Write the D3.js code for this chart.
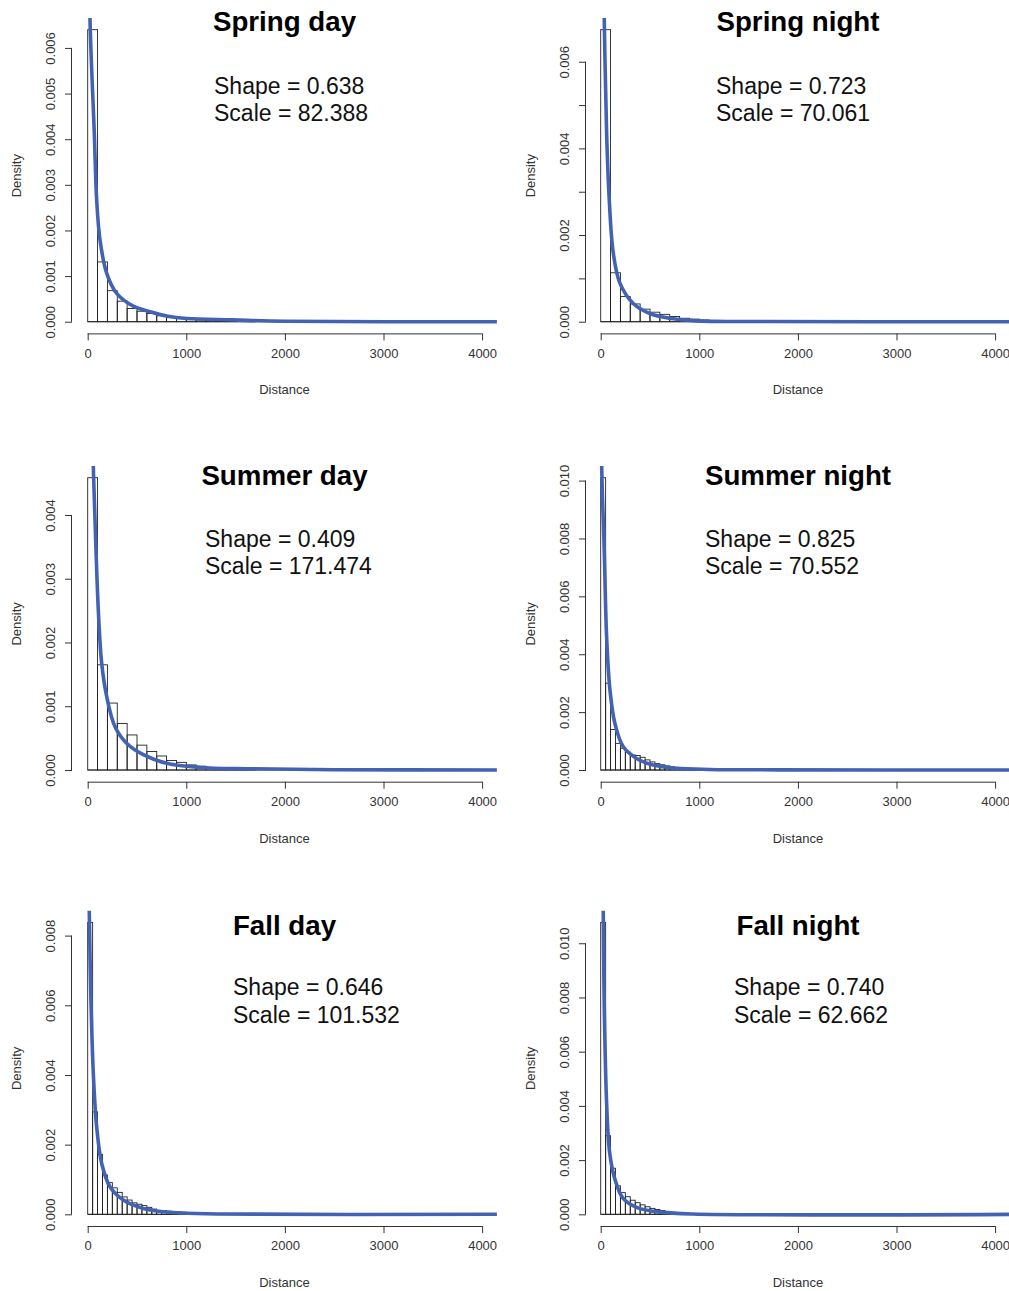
<!DOCTYPE html>
<html>
<head>
<meta charset="utf-8">
<script src="https://cdn.jsdelivr.net/npm/d3@7"></script>
<style>
  body { margin: 0; background: #fff; }
  svg { display: block; font-family: "Liberation Sans", Arial, sans-serif; }
</style>
</head>
<body>
<svg id="chart" width="1009" height="1291"></svg>
<script>
// histogram densities (bin width per panel below)
var springDayDensity = [0.0064, 0.00131, 0.00068, 0.00045, 0.00029, 0.00023, 0.00018, 0.00013, 0.00009, 0.00007, 0.00005, 0.00004, 0.00003, 0.00002, 0.00002, 0.00001, 0.00001];
var springNightDensity = [0.00674, 0.00113, 0.00058, 0.00041, 0.00029, 0.00022, 0.00017, 0.00012, 0.00008, 0.00006, 0.00004, 0.00003, 0.00002, 0.00001, 0.00001];
var summerDayDensity = [0.004585, 0.00165, 0.00105, 0.00073, 0.00055, 0.00039, 0.00029, 0.00022, 0.00015, 0.00012, 0.00008, 0.00006, 0.00004, 0.00003, 0.00002, 0.00002, 0.00001];
var summerNightDensity = [0.0101, 0.003, 0.0014, 0.00092, 0.00075, 0.00062, 0.00052, 0.0005, 0.00044, 0.00035, 0.00028, 0.00022, 0.00018, 0.00014, 0.00011, 0.00009, 0.00007, 0.00005, 0.00004, 0.00003, 0.00003, 0.00002, 0.00002, 0.00001];
var fallDayDensity = [0.00838, 0.00294, 0.00172, 0.00113, 0.00091, 0.00076, 0.00063, 0.0005, 0.00041, 0.00033, 0.00029, 0.00025, 0.0002, 0.00015, 0.00011, 0.0001, 0.00009, 0.00008, 0.00007, 0.00006, 0.00005, 0.00004, 0.00003, 0.00003, 0.00002, 0.00002, 0.00002, 0.00001, 0.00001];
var fallNightDensity = [0.01077, 0.0029, 0.0017, 0.00105, 0.0008, 0.00065, 0.00052, 0.00043, 0.00035, 0.00028, 0.00022, 0.00018, 0.00014, 0.00011, 0.00008, 0.00006, 0.00005, 0.00004, 0.00003, 0.00002, 0.00002, 0.00001];

// fitted curves, points: [distance, density]
var springDayCurve = [[12, 0.0095], [23, 0.00665], [67, 0.00413], [91, 0.00267], [125, 0.00179], [193, 0.00106], [294, 0.00062], [462, 0.00034], [632, 0.00022], [801, 0.000125], [1004, 0.00007], [1475, 0.00004], [2000, 0.00001], [4150, 0]];
var springNightCurve = [[20, 0.0095], [36, 0.007], [60, 0.00435], [87, 0.0028], [128, 0.00158], [195, 0.00089], [330, 0.00042], [498, 0.00019], [700, 0.00008], [970, 0.00002], [1500, 0.000005], [4150, 0]];
var summerDayCurve = [[40, 0.0062], [57, 0.00476], [84, 0.00345], [111, 0.0024], [142, 0.00167], [193, 0.00115], [277, 0.00068], [395, 0.00042], [564, 0.00024], [801, 0.000105], [1139, 0.00004], [1646, 0.00002], [2500, 0.000005], [4150, 0]];
var summerNightCurve = [[3, 0.0135], [10, 0.0105], [36, 0.0076], [60, 0.0046], [94, 0.00276], [144, 0.00161], [229, 0.0008], [364, 0.0004], [532, 0.00017], [768, 0.00006], [1104, 0.00002], [1800, 0.000005], [4150, 0]];
var fallDayCurve = [[5, 0.0105], [16, 0.00867], [33, 0.00614], [57, 0.00404], [91, 0.00251], [142, 0.00146], [226, 0.00079], [361, 0.00041], [564, 0.00017], [868, 0.00005], [1308, 0.00001], [4150, 0]];
var fallNightCurve = [[15, 0.0135], [26, 0.0111], [36, 0.0077], [60, 0.0041], [90, 0.0023], [140, 0.00135], [225, 0.0006], [370, 0.00025], [605, 0.00008], [935, 0.00001], [4150, 0]];

var panelTitles = ["Spring day", "Spring night", "Summer day", "Summer night", "Fall day", "Fall night"];
var shapeValues = ["0.638", "0.723", "0.409", "0.825", "0.646", "0.740"];
var scaleValues = ["82.388", "70.061", "171.474", "70.552", "101.532", "62.662"];
var binWidths = [100, 100, 100, 50, 50, 50];
var xTicks = [0, 1000, 2000, 3000, 4000];
var yTicks = [
  [0, 0.001, 0.002, 0.003, 0.004, 0.005, 0.006],
  [0, 0.001, 0.002, 0.003, 0.004, 0.005, 0.006],
  [0, 0.001, 0.002, 0.003, 0.004],
  [0, 0.002, 0.004, 0.006, 0.008, 0.010],
  [0, 0.002, 0.004, 0.006, 0.008],
  [0, 0.002, 0.004, 0.006, 0.008, 0.010]
];
var yLabelEvery = [1, 2, 1, 1, 1, 1];

var densities = [springDayDensity, springNightDensity, summerDayDensity, summerNightDensity, fallDayDensity, fallNightDensity];
var curves = [springDayCurve, springNightCurve, summerDayCurve, summerNightCurve, fallDayCurve, fallNightCurve];

// layout (pixels)
var cols = [{left: 72, right: 497, x0: 87.7}, {left: 586, right: 1010, x0: 600.7}];
var rows = [{top: 18, bottom: 333.4}, {top: 466, bottom: 781.7}, {top: 910.7, bottom: 1226}];
var textX = [214, 716, 205, 705, 233, 734];
var titleY = [31, 31, 485, 485, 935, 935];
var shapeY = [93.5, 93.5, 546.5, 546.5, 995, 995];
var lineGap = 27.5;
var pxPer1000 = 98.6;
var curveColor = "#4262b4";

var svg = d3.select("#chart");

panelTitles.forEach(function(title, i) {
  var col = cols[i % 2], row = rows[Math.floor(i / 2)];
  var dens = densities[i], bw = binWidths[i];
  var ymax = d3.max(dens);

  var x = d3.scaleLinear().domain([0, 4000]).range([col.x0, col.x0 + pxPer1000 * 4]);
  var y = d3.scaleLinear().domain([-0.04 * ymax, 1.04 * ymax]).range([row.bottom, row.top]);

  var g = svg.append("g");

  svg.append("clipPath").attr("id", "clip" + i)
    .append("rect")
    .attr("x", col.left).attr("y", row.top)
    .attr("width", col.right - col.left).attr("height", row.bottom - row.top);

  // baseline of empty bins
  g.append("line")
    .attr("x1", x(0)).attr("x2", x(4000))
    .attr("y1", y(0)).attr("y2", y(0))
    .attr("stroke", "#222").attr("stroke-width", 0.9);

  g.append("g").selectAll("rect")
    .data(dens)
    .enter()
    .append("rect")
    .attr("x", function(d, j) { return x(j * bw); })
    .attr("width", function(d, j) { return x((j + 1) * bw) - x(j * bw); })
    .attr("y", function(d) { return y(d); })
    .attr("height", function(d) { return y(0) - y(d); })
    .attr("fill", "none")
    .attr("stroke", "#222")
    .attr("stroke-width", 0.9);

  var line = d3.line()
    .x(function(d) { return x(d[0]); })
    .y(function(d) { return y(d[1]); })
    .curve(d3.curveCatmullRom.alpha(0.5));

  g.append("path")
    .datum(curves[i])
    .attr("clip-path", "url(#clip" + i + ")")
    .attr("d", line)
    .attr("fill", "none")
    .attr("stroke", curveColor)
    .attr("stroke-width", 3.6)
    .attr("stroke-linejoin", "round");

  // x axis
  var xAxis = d3.axisBottom(x).tickValues(xTicks).tickSize(7).tickPadding(8)
    .tickFormat(d3.format("d"));
  var gx = g.append("g")
    .attr("transform", "translate(0," + row.bottom + ")")
    .call(xAxis);
  gx.select(".domain").attr("stroke", "#333").attr("d", "M" + x(0) + ",0.5H" + x(4000));
  gx.selectAll(".tick line").attr("stroke", "#333");
  gx.selectAll("text").attr("fill", "#333").style("font-size", "13px")
    .style("font-family", "Liberation Sans, Arial, sans-serif");

  // y axis
  var ticks = yTicks[i];
  var yAxis = d3.axisLeft(y).tickValues(ticks).tickSize(7)
    .tickFormat(function(d, j) { return j % yLabelEvery[i] === 0 ? d3.format(".3f")(d) : ""; });
  var gy = g.append("g")
    .attr("transform", "translate(" + col.left + ",0)")
    .call(yAxis);
  gy.select(".domain").attr("stroke", "#333")
    .attr("d", "M-0.5," + y(0) + "V" + y(ticks[ticks.length - 1]));
  gy.selectAll(".tick line").attr("stroke", "#333");
  gy.selectAll("text")
    .attr("fill", "#333")
    .style("font-size", "13px")
    .style("font-family", "Liberation Sans, Arial, sans-serif")
    .attr("x", null).attr("dy", null)
    .attr("text-anchor", "middle")
    .attr("transform", "translate(-17,0) rotate(-90)");

  // axis titles
  g.append("text")
    .attr("x", (col.left + col.right) / 2)
    .attr("y", row.bottom + 61)
    .attr("text-anchor", "middle")
    .attr("fill", "#333")
    .style("font-size", "13px")
    .text("Distance");

  g.append("text")
    .attr("transform", "translate(" + (col.left - 51) + "," + ((row.top + row.bottom) / 2) + ") rotate(-90)")
    .attr("text-anchor", "middle")
    .attr("fill", "#333")
    .style("font-size", "13px")
    .text("Density");

  // title and fit parameters
  g.append("text")
    .attr("x", (col.left + col.right) / 2)
    .attr("y", titleY[i])
    .attr("text-anchor", "middle")
    .style("font-size", "27.7px")
    .style("font-weight", "bold")
    .attr("fill", "#000")
    .text(title);

  g.append("text")
    .attr("x", textX[i]).attr("y", shapeY[i])
    .style("font-size", "23px").attr("fill", "#111")
    .text("Shape = " + shapeValues[i]);

  g.append("text")
    .attr("x", textX[i]).attr("y", shapeY[i] + lineGap)
    .style("font-size", "23px").attr("fill", "#111")
    .text("Scale = " + scaleValues[i]);
});
</script>
</body>
</html>
